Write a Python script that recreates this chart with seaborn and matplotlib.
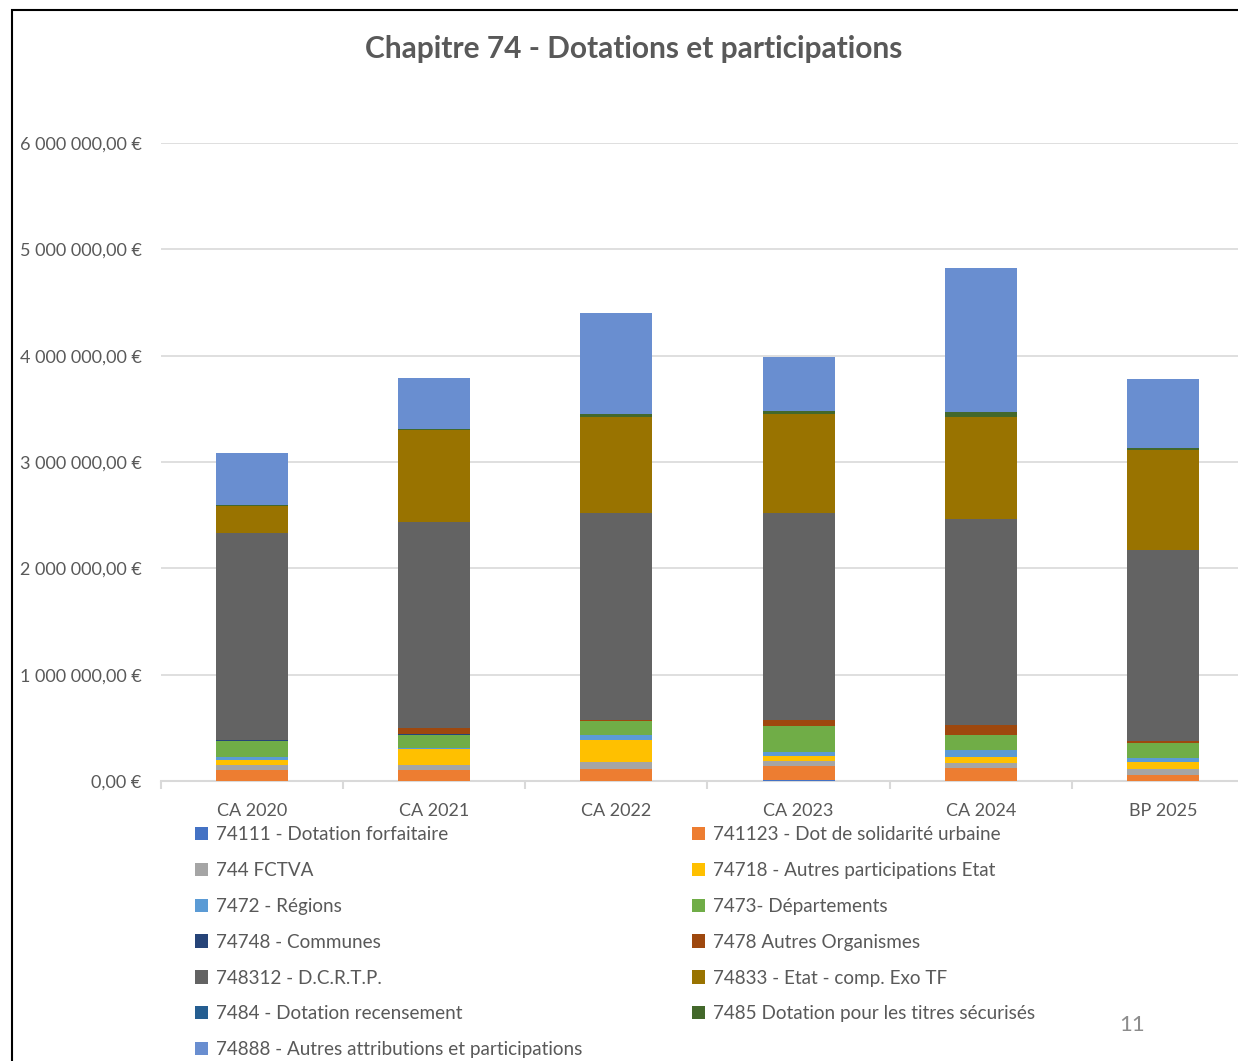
import numpy as np
import pandas as pd
import matplotlib
matplotlib.use("Agg")
import matplotlib.pyplot as plt
import seaborn as sns
from matplotlib.patches import Rectangle, Patch
from matplotlib.ticker import FuncFormatter, FixedLocator

# Data (euros)
years = ["CA 2020", "CA 2021", "CA 2022", "CA 2023", "CA 2024", "BP 2025"]

dot_forfaitaire = [0, 0, 0, 12000, 0, 0]
dsu = [100000, 100000, 110000, 125000, 125000, 56000]
fctva = [47000, 47000, 69000, 50000, 47000, 56000]
autres_etat = [47000, 150000, 204000, 44000, 50000, 66000]
regions = [35000, 15000, 50000, 44000, 66000, 41000]
departements = [144000, 122000, 129000, 238000, 147000, 138000]
communes = [10000, 10000, 0, 0, 0, 0]
autres_org = [5000, 50000, 15000, 56000, 88000, 15000]
dcrtp = [1946000, 1946000, 1946000, 1950000, 1940000, 1800000]
comp_exo_tf = [248000, 859000, 903000, 931000, 962000, 940000]
recensement = [0, 0, 0, 0, 0, 0]
titres_securises = [15000, 15000, 22000, 25000, 47000, 22000]
autres_attrib = [489000, 475000, 955000, 510000, 1355000, 650000]

series_names = [
    "74111 - Dotation forfaitaire",
    "741123 - Dot de solidarité urbaine",
    "744 FCTVA",
    "74718 - Autres participations Etat",
    "7472 - Régions",
    "7473- Départements",
    "74748 - Communes",
    "7478 Autres Organismes",
    "748312 - D.C.R.T.P.",
    "74833 - Etat - comp. Exo TF",
    "7484 - Dotation recensement",
    "7485 Dotation pour les titres sécurisés",
    "74888 - Autres attributions et participations",
]
series_values = [dot_forfaitaire, dsu, fctva, autres_etat, regions, departements,
                 communes, autres_org, dcrtp, comp_exo_tf, recensement,
                 titres_securises, autres_attrib]
colors = ["#4472C4", "#ED7D31", "#A5A5A5", "#FFC000", "#5B9BD5", "#70AD47",
          "#264478", "#9E480E", "#636363", "#997300", "#255E91", "#43682B",
          "#698ED0"]

text_color = "#595959"
grid_color = "#D9D9D9"

sns.set_theme(style="white")
plt.rcParams["font.family"] = ["Lato", "DejaVu Sans"]

fig = plt.figure(figsize=(12.38, 10.61), dpi=100)
W, H = 1238, 1061
ax = fig.add_axes([160.9 / W, 1 - 781 / H, (1254 - 160.9) / W, (781 - 143) / H])

# stacked bars: draw cumulative totals from the top series down
cum = np.cumsum(np.array(series_values, dtype=float), axis=0)
for i in range(len(series_names) - 1, -1, -1):
    df = pd.DataFrame({"year": years, "value": cum[i]})
    sns.barplot(data=df, x="year", y="value", color=colors[i], width=0.395,
                saturation=1, ax=ax, zorder=3, linewidth=0)

ax.set_xlim(-0.5, 5.5)
ax.set_ylim(0, 6000000)
ax.set_yticks(np.arange(0, 6000001, 1000000))
ax.yaxis.set_major_formatter(
    FuncFormatter(lambda v, p: f"{v:,.2f}".replace(",", " ").replace(".", ",") + " €"))
ax.grid(axis="y", color=grid_color, linewidth=1.2, zorder=0)
ax.set_axisbelow(True)
for s in ["top", "right", "left"]:
    ax.spines[s].set_visible(False)
ax.spines["bottom"].set_color(grid_color)
ax.spines["bottom"].set_linewidth(1.5)
ax.set_xlabel("")
ax.set_ylabel("")
ax.tick_params(axis="y", length=0, pad=14, labelsize=13, labelcolor=text_color)
ax.tick_params(axis="x", which="major", length=0, pad=15.5, labelsize=13, labelcolor=text_color)
ax.xaxis.set_minor_locator(FixedLocator(np.arange(-0.5, 6, 1)))
ax.tick_params(axis="x", which="minor", length=6, width=1.5, color=grid_color, bottom=True)

fig.text(634 / W, 1 - 49 / H, "Chapitre 74 - Dotations et participations",
         ha="center", va="center", fontsize=21.5, fontweight="bold", color=text_color)

# legend in two columns (row-wise order as in the original)
handles = [Patch(facecolor=c, edgecolor="none") for c in colors]
left_idx = list(range(0, 13, 2))
right_idx = list(range(1, 13, 2))
for idx, x0 in [(left_idx, 195), (right_idx, 692)]:
    fig.legend([handles[k] for k in idx], [series_names[k] for k in idx],
               loc="upper left", bbox_to_anchor=(x0 / W, 1 - 826 / H),
               frameon=False, fontsize=13.6, labelcolor=text_color,
               handlelength=0.7, handleheight=0.7, handletextpad=0.4,
               labelspacing=1.0, borderaxespad=0, borderpad=0)

fig.text(1132 / W, 1 - 1025 / H, "11", ha="center", va="center",
         fontsize=16, color="#8C8C8C")

# slide frame
fig.patches.append(Rectangle((12 / W, -0.05), 1.1, 1 - 10 / H + 0.05,
                             transform=fig.transFigure, fill=False,
                             edgecolor="black", linewidth=1.5))

fig.savefig("out.png", dpi=100)
